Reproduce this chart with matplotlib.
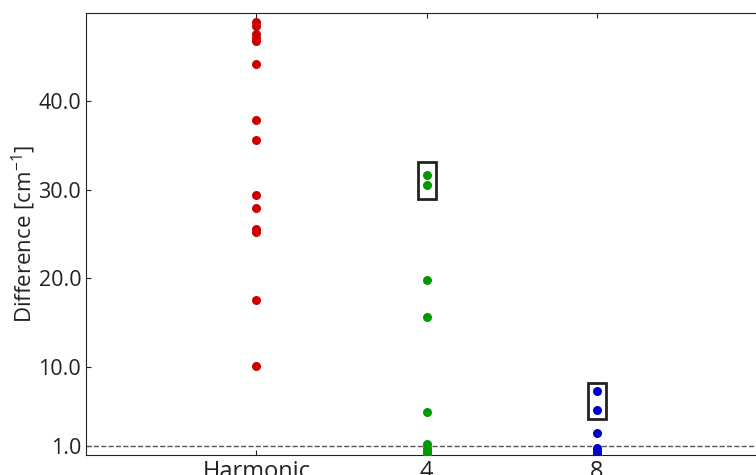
import matplotlib.pyplot as plt
from matplotlib.patches import Rectangle

plt.rcParams['font.family'] = ['Open Sans', 'DejaVu Sans']
plt.rcParams['mathtext.default'] = 'regular'

categories = ['Harmonic', '4', '8']
colors = ['#cc0000', '#009900', '#0000cc']

harmonic = [49.0, 48.5, 47.6, 47.2, 46.8, 44.2, 37.9, 35.6, 29.4, 27.9,
            25.6, 25.2, 17.5, 10.1]
order4 = [31.7, 30.6, 19.8, 15.6, 4.9, 1.2, 0.8, 0.4, 0.1]
order8 = [7.2, 5.1, 2.5, 0.8, 0.4, 0.1]
series = [harmonic, order4, order8]

# boxes around the top pair of each truncated series: (x, y_low, y_high)
boxes = [(2, 29.0, 33.1), (3, 4.1, 8.2)]

fig = plt.figure(figsize=(7.56, 4.75), dpi=100)
ax = fig.add_axes([0.1138, 0.0421, 0.9008, 0.9305])

for i, (vals, c) in enumerate(zip(series, colors)):
    ax.scatter([i + 1] * len(vals), vals, s=42, color=c, zorder=3,
               linewidths=0)

for x, lo, hi in boxes:
    ax.add_patch(Rectangle((x - 0.053, lo), 0.106, hi - lo, fill=False,
                           edgecolor='#222222', linewidth=2, zorder=4))

ax.axhline(1.0, color='#555555', linestyle='--', linewidth=1)

ax.set_xlim(0, 4)
ax.set_ylim(0, 50)
ax.set_xticks([1, 2, 3])
ax.set_xticklabels(categories)
ax.set_yticks([1, 10, 20, 30, 40])
ax.set_yticklabels(['1.0', '10.0', '20.0', '30.0', '40.0'])
ax.tick_params(direction='in', labelsize=15.5, colors='#222222',
               top=True, right=True)
ax.tick_params(axis='x', labelsize=17)
ax.set_ylabel('Difference [cm$^{-1}$]', fontsize=16, color='#222222',
              labelpad=0)
for sp in ax.spines.values():
    sp.set_color('#222222')

fig.savefig('out.png', dpi=100)
